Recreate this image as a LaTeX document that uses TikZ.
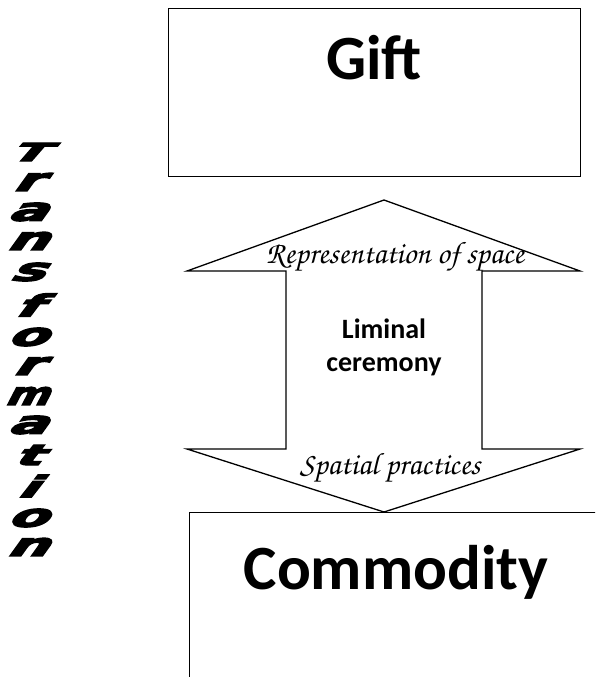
\documentclass[tikz,border=0pt]{standalone}
\usepackage{fontspec}
\setmainfont{Carlito}
\newfontfamily\handfont{texgyrechorus-mediumitalic.otf}
\newfontfamily\wafont[FakeSlant=0.4,FakeBold=4]{DejaVu Sans Bold}
\usetikzlibrary{positioning}

\begin{document}
\begin{tikzpicture}[x=1pt, y=-1pt,
  box/.style={rectangle, draw, line width=1.3pt, inner sep=0pt},
  big/.style={font=\bfseries\fontsize{63}{63}\selectfont, inner sep=0pt},
  hand/.style={font=\handfont\fontsize{31}{31}\selectfont, inner sep=0pt},
  mid/.style={font=\bfseries\fontsize{28}{33}\selectfont, align=center, inner sep=0pt},
  wa/.style={font=\wafont\fontsize{32}{32}\selectfont, transform shape, inner sep=0pt}
]
  \useasboundingbox (0,0) rectangle (595,677);
  \node[box, minimum width=412pt, minimum height=168pt, anchor=north west] (gift) at (168,8) {};
  \begin{scope}
    \clip (0,0) rectangle (595,677);
    \node[box, minimum width=430pt, minimum height=200pt, anchor=north west] (commodity) at (189,512) {};
  \end{scope}
  \node[big, anchor=base] (giftlbl) at (374,80) {Gift};
  \node[big, anchor=base] (comlbl) at (396,589) {Commodity};
  % double arrow between the two boxes
  \draw[line width=1.3pt] (384,200) -- (580,271) -- (482,271) -- (482,449) -- (580,449) -- (384,512)
    -- (187,449) -- (286,449) -- (286,271) -- (187,271) -- cycle;
  \node[hand, anchor=base] (repr) at (395,263) {Representation of space};
  \node[hand, anchor=base] (prac) at (390,474) {Spatial practices};
  \node[mid] (limin) at (384,347) {Liminal\\ceremony};
  \foreach \ch/\yy/\sx/\sy in {T/152/1.7/0.78, r/182/1.8/1.0, a/212/1.8/1.0, n/241/1.8/1.0, s/272/1.8/1.0,
      f/305/1.8/0.95, o/337/1.8/1.0, r/366/1.8/1.0, m/396/1.3/1.0, a/425/1.8/1.0, t/455/1.8/0.9,
      i/486/1.8/0.92, o/518/1.8/1.0, n/547/1.8/1.0}
    \node[wa, xscale=\sx, yscale=\sy] (l\yy) at (26,\yy) {\ch};
\end{tikzpicture}
\end{document}
